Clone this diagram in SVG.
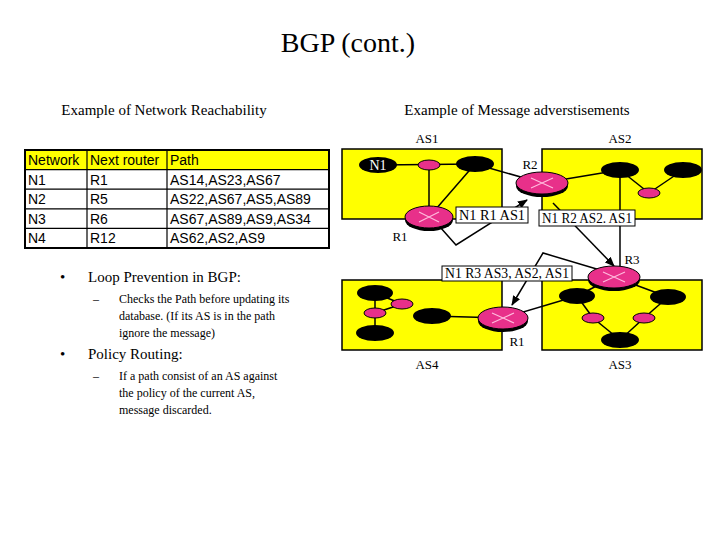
<svg xmlns="http://www.w3.org/2000/svg" width="720" height="540" viewBox="0 0 720 540">
<style>
.s{font-family:"Liberation Serif",serif;fill:#000}
.t{font-family:"Liberation Sans",Arial,sans-serif;font-size:14px}
.as{fill:#ffff00;stroke:#000;stroke-width:1.5}
.bl{fill:#000}
.rt{fill:#e8308a;stroke:#000;stroke-width:1}
.x{stroke:#fbd;stroke-width:1.2}
.ln{stroke:#000;stroke-width:1.5;fill:none}
.lb{fill:#fff;stroke:#000;stroke-width:1}
.lt{font-family:"Liberation Serif",serif;font-size:14px}
</style>
<defs>
<marker id="a" markerWidth="10" markerHeight="8" refX="9" refY="4" orient="auto" markerUnits="userSpaceOnUse"><path d="M0,0 L10,4 L0,8 z"/></marker>
</defs>
<rect width="720" height="540" fill="#fff"/>
<text class="s" x="348" y="52" font-size="28" text-anchor="middle">BGP (cont.)</text>
<text class="s" x="164" y="115" font-size="15" text-anchor="middle">Example of Network Reachability</text>
<text class="s" x="517" y="115" font-size="15" text-anchor="middle">Example of Message adverstisements</text>
<g id="table">
<rect x="25" y="150" width="304" height="19.6" fill="#ffff00"/>
<rect x="25" y="150" width="304" height="98" fill="none" stroke="#000" stroke-width="2"/>
<g stroke="#000" stroke-width="1.2">
<line x1="25" y1="169.6" x2="329" y2="169.6"/><line x1="25" y1="189.2" x2="329" y2="189.2"/><line x1="25" y1="208.8" x2="329" y2="208.8"/><line x1="25" y1="228.4" x2="329" y2="228.4"/>
<line x1="87" y1="150" x2="87" y2="248"/><line x1="167" y1="150" x2="167" y2="248"/></g>
<g class="t">
<text x="28" y="165">Network</text><text x="90" y="165">Next router</text><text x="170" y="165">Path</text>
<text x="28" y="185">N1</text><text x="90" y="185">R1</text><text x="170" y="185">AS14,AS23,AS67</text>
<text x="28" y="204">N2</text><text x="90" y="204">R5</text><text x="170" y="204">AS22,AS67,AS5,AS89</text>
<text x="28" y="224">N3</text><text x="90" y="224">R6</text><text x="170" y="224">AS67,AS89,AS9,AS34</text>
<text x="28" y="243">N4</text><text x="90" y="243">R12</text><text x="170" y="243">AS62,AS2,AS9</text>
</g></g>
<g id="bullets" class="s">
<text x="60" y="282" font-size="15">•</text><text x="88" y="282" font-size="15">Loop Prevention in BGP:</text>
<text x="93" y="303" font-size="12">–</text>
<text x="119" y="303" font-size="12">Checks the Path before updating its</text>
<text x="119" y="320" font-size="12">database. (If its AS is in the path</text>
<text x="119" y="337" font-size="12">ignore the message)</text>
<text x="60" y="359" font-size="15">•</text><text x="88" y="359" font-size="15">Policy Routing:</text>
<text x="93" y="380" font-size="12">–</text>
<text x="119" y="380" font-size="12">If a path consist of an AS against</text>
<text x="119" y="397" font-size="12">the policy of the current AS,</text>
<text x="119" y="414" font-size="12">message discarded.</text>
</g>
<g id="as-boxes">
<rect class="as" x="342" y="149" width="160" height="70"/>
<rect class="as" x="542" y="149" width="160" height="70"/>
<rect class="as" x="342" y="280" width="160" height="70"/>
<rect class="as" x="542" y="280" width="160" height="70"/>
<g class="s" font-size="13" text-anchor="middle">
<text x="427" y="143">AS1</text><text x="620" y="143">AS2</text><text x="427" y="369">AS4</text><text x="620" y="369">AS3</text>
<text x="530" y="169">R2</text><text x="400" y="241">R1</text><text x="632" y="264">R3</text><text x="517" y="346">R1</text>
</g></g>
<g id="connectors" class="ln">
<line x1="378" y1="165" x2="475" y2="164"/>
<line x1="429" y1="165" x2="429" y2="217"/>
<line x1="475" y1="164" x2="429" y2="217"/>
<line x1="475" y1="164" x2="542" y2="183"/>
<line x1="542" y1="183" x2="620" y2="170"/>
<line x1="620" y1="170" x2="649" y2="193"/>
<line x1="649" y1="193" x2="683" y2="170"/>
<line x1="620" y1="170" x2="620" y2="277"/>
<line x1="614" y1="277" x2="577" y2="296"/>
<line x1="614" y1="277" x2="668" y2="297"/>
<line x1="577" y1="296" x2="593" y2="318"/>
<line x1="668" y1="297" x2="644" y2="318"/>
<line x1="593" y1="318" x2="620" y2="340"/>
<line x1="644" y1="318" x2="620" y2="340"/>
<line x1="577" y1="296" x2="503" y2="318"/>
<line x1="503" y1="318" x2="432" y2="316"/>
<line x1="375" y1="293" x2="402" y2="304"/>
<line x1="402" y1="304" x2="375" y2="313"/>
<line x1="375" y1="293" x2="375" y2="333"/>
<path d="M440,227 L456,245 L527,200" marker-end="url(#a)"/>
<path d="M553,203 L614,266" marker-end="url(#a)"/>
<path d="M600,270 L543,253 L512,305" marker-end="url(#a)"/>
</g>
<g id="hosts">
<ellipse class="bl" cx="378" cy="165" rx="19" ry="8"/>
<text x="378" y="170" font-family="Liberation Serif,serif" font-size="14" fill="#fff" text-anchor="middle">N1</text>
<ellipse class="bl" cx="475" cy="164" rx="19" ry="8"/>
<ellipse class="bl" cx="620" cy="170" rx="19" ry="8"/>
<ellipse class="bl" cx="683" cy="170" rx="19" ry="8"/>
<ellipse class="bl" cx="577" cy="296" rx="18" ry="8"/>
<ellipse class="bl" cx="668" cy="297" rx="18" ry="8"/>
<ellipse class="bl" cx="620" cy="340" rx="19" ry="8"/>
<ellipse class="bl" cx="375" cy="293" rx="18" ry="8"/>
<ellipse class="bl" cx="432" cy="316" rx="19" ry="8"/>
<ellipse class="bl" cx="375" cy="333" rx="19" ry="8"/>
</g>
<g id="routers">
<g id="R1"><ellipse cx="429" cy="220" rx="24" ry="11" fill="#000"/><ellipse class="rt" cx="429" cy="217" rx="24" ry="11"/><path class="x" d="M419,212 L439,222 M419,222 L439,212"/></g>
<g id="R2"><ellipse cx="542" cy="186" rx="26" ry="11" fill="#000"/><ellipse class="rt" cx="542" cy="183" rx="26" ry="11"/><path class="x" d="M531,178 L553,188 M531,188 L553,178"/></g>
<g id="R3"><ellipse cx="614" cy="280" rx="26" ry="11" fill="#000"/><ellipse class="rt" cx="614" cy="277" rx="26" ry="11"/><path class="x" d="M603,272 L625,282 M603,282 L625,272"/></g>
<g id="R4"><ellipse cx="503" cy="321" rx="25" ry="11" fill="#000"/><ellipse class="rt" cx="503" cy="318" rx="25" ry="11"/><path class="x" d="M492,313 L514,323 M492,323 L514,313"/></g>
<g id="small">
<ellipse class="rt" cx="429" cy="165" rx="11" ry="5"/>
<ellipse class="rt" cx="649" cy="193" rx="11" ry="5"/>
<ellipse class="rt" cx="593" cy="318" rx="11" ry="5"/>
<ellipse class="rt" cx="644" cy="318" rx="11" ry="5"/>
<ellipse class="rt" cx="402" cy="304" rx="11" ry="5"/>
<ellipse class="rt" cx="375" cy="313" rx="11" ry="5"/>
</g></g>
<g id="labels">
<rect class="lb" x="456" y="207" width="72" height="16"/><text class="lt" x="459" y="220" textLength="66" lengthAdjust="spacingAndGlyphs">N1 R1 AS1</text>
<rect class="lb" x="539" y="210" width="96" height="16"/><text class="lt" x="542" y="223" textLength="90" lengthAdjust="spacingAndGlyphs">N1 R2 AS2. AS1</text>
<rect class="lb" x="442" y="266" width="130" height="15"/><text class="lt" x="445" y="278" textLength="124" lengthAdjust="spacingAndGlyphs">N1 R3 AS3, AS2, AS1</text>
</g>
</svg>
